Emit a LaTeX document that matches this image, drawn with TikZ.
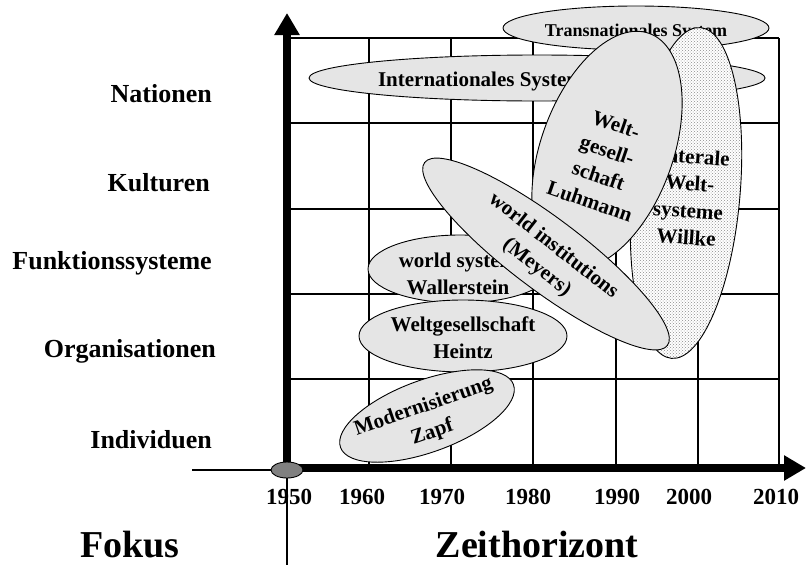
\documentclass[tikz,border=0pt]{standalone}
\usepackage{fontspec}
\setmainfont{Liberation Serif}
\usetikzlibrary{arrows.meta,shapes.geometric,patterns}
\begin{document}
\begin{tikzpicture}[x=1pt,y=-1pt,
  ell/.style={ellipse, draw=black, line width=0.9pt, fill=black!10, inner sep=0pt},
  dotell/.style={ellipse, draw=black, line width=0.9pt, inner sep=0pt,
    preaction={fill=white}, pattern=crosshatch dots, pattern color=black!45},
  lbl/.style={font=\bfseries\fontsize{21}{27}\selectfont, align=center, inner sep=0pt},
  smalllbl/.style={font=\bfseries\fontsize{18}{22}\selectfont, align=center, inner sep=0pt},
  axlbl/.style={font=\bfseries\fontsize{26}{30}\selectfont, anchor=base east, inner sep=0pt},
  yr/.style={font=\bfseries\fontsize{23}{27}\selectfont, anchor=base, inner sep=0pt},
  big/.style={font=\bfseries\fontsize{38}{44}\selectfont, anchor=base, inner sep=0pt},
  gridline/.style={line width=1.2pt},
  axisline/.style={line width=8pt, -{Triangle[length=22pt,width=24pt]}},
]
\useasboundingbox (0,0) rectangle (806,565);

% grid
\foreach \x in {369,451,533,616,698,779} \draw[gridline] (\x,38) -- (\x,467);
\foreach \y in {38,123,209,294,379} \draw[gridline] (287,\y) -- (779,\y);

% axes
\coordinate (O) at (287,468);
\coordinate (ytip) at (287,13);
\coordinate (xtip) at (806,468);
\coordinate (lend) at (192,470);
\coordinate (bend) at (287,565);
\draw[axisline] (O) -- (ytip);
\draw[axisline] (O) -- (xtip);

% ellipses (bottom to top)
\node[ell, minimum width=266pt, minimum height=44pt] (trans) at (636,28) {};
\node[smalllbl] (transT) at (636,32) {Transnationales System};

\node[ell, minimum width=456pt, minimum height=46pt] (inter) at (537,78) {};
\node[lbl] (interT) at (481,81) {Internationales System};

\node[dotell, minimum width=108pt, minimum height=332pt, rotate=-5] (willke) at (686,193) {};
\node[lbl, rotate=-4] (willkeT) at (689,197) {Laterale\\Welt-\\systeme\\Willke};

\node[ell, minimum width=132pt, minimum height=248pt, rotate=-20] (luh) at (607,150) {};
\node[lbl, rotate=-19] (luhT) at (603,163) {Welt-\\gesell-\\schaft\\Luhmann};

\node[ell, minimum width=184pt, minimum height=68pt] (wall) at (460,269) {};
\node[lbl] (wallT) at (458,274) {world system\\Wallerstein};

\node[ell, minimum width=208pt, minimum height=72pt] (heintz) at (463,336) {};
\node[lbl] (heintzT) at (463,338) {Weltgesellschaft\\Heintz};

\node[ell, minimum width=304pt, minimum height=72pt, rotate=-37] (wi) at (546,254) {};
\node[lbl, rotate=-38] (wiT) at (545,257) {world institutions\\(Meyers)};

\node[ell, minimum width=184pt, minimum height=72pt, rotate=20] (mod) at (427,416) {};
\node[lbl, rotate=19] (modT) at (428,420) {Modernisierung\\Zapf};

% origin
\node[ellipse, draw=black, line width=0.9pt, fill=black!50, minimum width=32pt, minimum height=16pt, inner sep=0pt] (orig) at (287,470) {};
\draw[gridline] (lend) -- (orig.west);
\draw[gridline] (orig.south) -- (bend);

% left labels
\node[axlbl] (nat) at (212,102) {Nationen};
\node[axlbl] (kul) at (210,191) {Kulturen};
\node[axlbl] (fun) at (212,269) {Funktionssysteme};
\node[axlbl] (org) at (216,357) {Organisationen};
\node[axlbl] (ind) at (212,448) {Individuen};

% years
\node[yr] (y1950) at (289,504) {1950};
\node[yr] (y1960) at (362,504) {1960};
\node[yr] (y1970) at (442,504) {1970};
\node[yr] (y1980) at (528,504) {1980};
\node[yr] (y1990) at (617,504) {1990};
\node[yr] (y2000) at (689,504) {2000};
\node[yr] (y2010) at (776,504) {2010};

% titles
\node[big] (fokus) at (130,557) {Fokus};
\node[big] (zeit) at (537,557) {Zeithorizont};
\end{tikzpicture}
\end{document}
